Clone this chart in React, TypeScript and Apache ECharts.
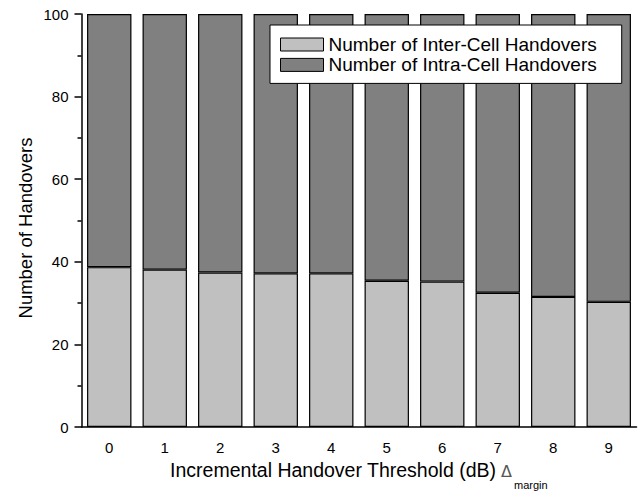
import React, { useEffect, useRef } from "react";
import * as echarts from "echarts";

const categories = ["0", "1", "2", "3", "4", "5", "6", "7", "8", "9"];
const interCell = [38.7, 38.1, 37.4, 37.2, 37.2, 35.4, 35.2, 32.5, 31.5, 30.3];
const intraCell = [61.3, 61.9, 62.6, 62.8, 62.8, 64.6, 64.8, 67.5, 68.5, 69.7];
const seriesNames = ["Number of Inter-Cell Handovers", "Number of Intra-Cell Handovers"];
const yTicks = { min: 0, max: 100, interval: 20 };
const xTitle = "Incremental Handover Threshold (dB)";
const xTitleSymbol = "Δ";
const xTitleSub = "margin";
const yTitle = "Number of Handovers";

const FONT = "'Liberation Sans', Arial, sans-serif";

export default function App() {
  const ref = useRef<HTMLDivElement>(null);
  useEffect(() => {
    if (!ref.current) return;
    const chart = echarts.init(ref.current, undefined, { renderer: "svg" });
    const barStyle = (c: string) => ({ color: c, borderColor: "#000", borderWidth: 1.2 });
    chart.setOption({
      animation: false,
      backgroundColor: "#fff",
      textStyle: { fontFamily: FONT },
      grid: { left: 81.5, top: 14, width: 555, bottom: 69, containLabel: false },
      legend: {
        orient: "vertical",
        left: 270,
        top: 25,
        padding: [10, 25, 9, 10],
        itemWidth: 43,
        itemHeight: 13,
        itemGap: 1.4,
        itemStyle: { borderColor: "#000", borderWidth: 1 },
        backgroundColor: "#fff",
        borderColor: "#000",
        borderWidth: 1,
        textStyle: { fontSize: 19, color: "#000", fontFamily: FONT },
        data: seriesNames.map((n) => ({ name: n, icon: "rect" })),
      },
      xAxis: [
        {
          type: "category",
          data: categories,
          position: "bottom",
          axisLine: { lineStyle: { color: "#000", width: 1.5 } },
          axisTick: { alignWithLabel: true, length: 6, lineStyle: { color: "#000", width: 1.5 } },
          axisLabel: { fontSize: 15, color: "#000", margin: 13, fontFamily: FONT },
        },
        {
          type: "category",
          data: categories,
          position: "bottom",
          axisLine: { show: false },
          axisTick: { alignWithLabel: false, length: 3, lineStyle: { color: "#000", width: 1.5 } },
          axisLabel: { show: false },
        },
      ],
      yAxis: {
        type: "value",
        min: yTicks.min,
        max: yTicks.max,
        interval: yTicks.interval,
        splitLine: { show: false },
        axisLine: { show: true, lineStyle: { color: "#000", width: 1.5 } },
        axisTick: { show: true, length: 7, lineStyle: { color: "#000", width: 1.5 } },
        minorTick: { show: true, splitNumber: 2, length: 4, lineStyle: { color: "#000", width: 1.5 } },
        axisLabel: { fontSize: 15, color: "#000", margin: 13, fontFamily: FONT },
      },
      graphic: [
        {
          type: "text",
          x: 25,
          y: 228,
          rotation: Math.PI / 2,
          style: {
            text: yTitle,
            fontSize: 18.5,
            fontFamily: FONT,
            fill: "#000",
            align: "center",
            verticalAlign: "middle",
          },
        },
        {
          type: "text",
          x: 496,
          y: 470,
          style: {
            text: xTitle,
            fontSize: 19.5,
            fontFamily: FONT,
            fill: "#000",
            align: "right",
            verticalAlign: "middle",
          },
        },
        {
          type: "text",
          x: 501,
          y: 471,
          style: {
            text: xTitleSymbol,
            fontSize: 16,
            fontFamily: "'DejaVu Sans'",
            fill: "#555",
            align: "left",
            verticalAlign: "middle",
          },
        },
        {
          type: "text",
          x: 514,
          y: 485,
          style: {
            text: xTitleSub,
            fontSize: 11,
            fontFamily: FONT,
            fill: "#000",
            align: "left",
            verticalAlign: "middle",
          },
        },
      ],
      series: [
        {
          name: seriesNames[0],
          type: "bar",
          stack: "total",
          barWidth: "80%",
          data: interCell,
          itemStyle: barStyle("#c0c0c0"),
        },
        {
          name: seriesNames[1],
          type: "bar",
          stack: "total",
          barWidth: "80%",
          data: intraCell,
          itemStyle: barStyle("#808080"),
        },
      ],
    });
    return () => chart.dispose();
  }, []);
  return (
    <div
      ref={ref}
      style={{ position: "fixed", left: 0, top: 0, width: 641, height: 496, background: "#fff" }}
    />
  );
}
